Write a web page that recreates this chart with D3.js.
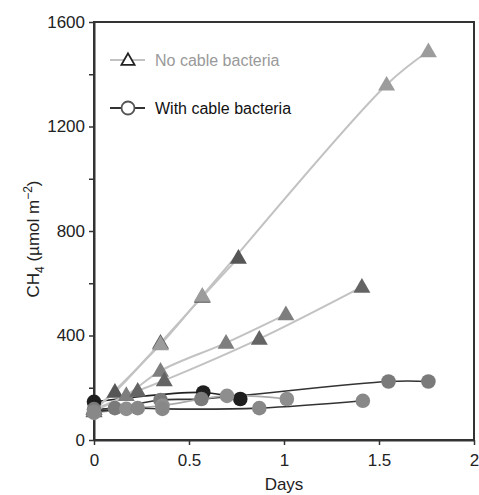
<!DOCTYPE html>
<html>
<head>
<meta charset="utf-8">
<script src="https://cdn.jsdelivr.net/npm/d3@7"></script>
<style>
  body { margin: 0; background: #fff; }
  text { font-family: "Liberation Sans", Arial, sans-serif; }
</style>
</head>
<body>
<script>
// replicate series (days, CH4 umol m-2)
const noCableDays = [
    [0, 0.11, 0.35, 0.57, 0.76],
    [0, 0.35, 0.57, 1.54, 1.76],
    [0, 0.17, 0.35, 0.695, 1.01],
    [0, 0.23, 0.37, 0.87, 1.41]
];
const noCableValues = [
    [120, 184, 372, 548, 697],
    [112, 366, 552, 1360, 1488],
    [118, 172, 265, 372, 481],
    [110, 188, 228, 387, 586]
];
const withCableDays = [
    [0, 0.575, 0.77],
    [0, 0.11, 0.35, 0.565, 1.55, 1.76],
    [0, 0.17, 0.36, 0.70, 1.015],
    [0, 0.23, 0.36, 0.87, 1.415]
];
const withCableValues = [
    [146, 182, 157],
    [118, 122, 153, 157, 224, 224],
    [104, 119, 132, 169, 157],
    [108, 122, 119, 122, 150]
];
const triFill = ["#565656", "#9c9c9c", "#7e7e7e", "#646464"];
const circFill = ["#1e1e1e", "#7a7a7a", "#8e8e8e", "#888888"];
const circLine = ["#222", "#333", "#aaa", "#333"];

const xTicks = [0, 0.5, 1, 1.5, 2];
const yTicks = [0, 200, 400, 600, 800, 1000, 1200, 1400, 1600];
const yLabelled = [0, 400, 800, 1200, 1600];

let margin = {top: 22, right: 5, bottom: 55, left: 94};
let width = 479 - margin.left - margin.right;
let height = 495 - margin.top - margin.bottom;

let xScale = d3.scaleLinear().domain([0, 2]).range([0, width]);
let yScale = d3.scaleLinear().domain([0, 1600]).range([height, 0]);

let svg = d3.select("body").append("svg")
    .attr("width", 479)
    .attr("height", 495)
  .append("g")
    .attr("transform", `translate(${margin.left},${margin.top})`);

// frame
svg.append("rect")
    .attr("width", width).attr("height", height)
    .attr("fill", "none").attr("stroke", "#333").attr("stroke-width", 2);

let xAxis = svg.append("g")
    .attr("transform", `translate(0,${height})`)
    .call(d3.axisBottom(xScale).tickValues(xTicks).tickSize(5).tickSizeOuter(0)
        .tickFormat(d => d));
let yAxis = svg.append("g")
    .call(d3.axisLeft(yScale).tickValues(yTicks).tickSize(5).tickSizeOuter(0)
        .tickFormat(d => yLabelled.includes(d) ? d : ""));

[xAxis, yAxis].forEach(a => {
    a.select(".domain").attr("stroke", "#333").attr("stroke-width", 2);
    a.selectAll(".tick line").attr("stroke", "#333").attr("stroke-width", 1.5);
    a.selectAll(".tick text").attr("font-size", 17).attr("fill", "#222")
        .style("font-family", "Liberation Sans, Arial, sans-serif");
});
xAxis.selectAll(".tick text").attr("dy", "1.05em");
yAxis.selectAll(".tick text").attr("x", -9);

svg.append("text")
    .attr("x", width / 2).attr("y", height + 50)
    .attr("text-anchor", "middle").attr("font-size", 17).attr("fill", "#222")
    .text("Days");

let yl = svg.append("text")
    .attr("transform", `translate(-55,${height / 2 + 8}) rotate(-90)`)
    .attr("text-anchor", "middle").attr("font-size", 17).attr("fill", "#222");
yl.append("tspan").text("CH");
yl.append("tspan").attr("font-size", 12).attr("dy", 5).text("4");
yl.append("tspan").attr("dy", -5).text(" (\u00b5mol m");
yl.append("tspan").attr("font-size", 12).attr("dy", -7).text("\u22122");
yl.append("tspan").attr("dy", 7).text(")");

let line = d3.line()
    .x(d => xScale(d.x))
    .y(d => yScale(d.y))
    .curve(d3.curveCatmullRom.alpha(0.5));

let tri = d3.symbol().type(d3.symbolTriangle).size(125);

function pts(days, vals) {
    return days.map((x, i) => ({x: x, y: vals[i]}));
}

// with cable bacteria lines first (underneath)
withCableDays.forEach((days, k) => {
    svg.append("path")
        .datum(pts(days, withCableValues[k]))
        .attr("fill", "none").attr("stroke", circLine[k]).attr("stroke-width", 1.6)
        .attr("d", line);
});
noCableDays.forEach((days, k) => {
    svg.append("path")
        .datum(pts(days, noCableValues[k]))
        .attr("fill", "none").attr("stroke", "#c2c2c2").attr("stroke-width", 2)
        .attr("d", line);
});

noCableDays.forEach((days, k) => {
    svg.selectAll(null)
        .data(pts(days, noCableValues[k]))
        .enter().append("path")
        .attr("d", tri)
        .attr("transform", d => `translate(${xScale(d.x)},${yScale(d.y) + 1})`)
        .attr("fill", triFill[k]);
});
withCableDays.forEach((days, k) => {
    svg.selectAll(null)
        .data(pts(days, withCableValues[k]))
        .enter().append("circle")
        .attr("cx", d => xScale(d.x))
        .attr("cy", d => yScale(d.y))
        .attr("r", 7.3)
        .attr("fill", circFill[k]);
});

// legend
let legend = svg.append("g").attr("transform", "translate(16,38)");
legend.append("line").attr("x1", 0).attr("x2", 35).attr("y1", 0).attr("y2", 0)
    .attr("stroke", "#c2c2c2").attr("stroke-width", 2);
legend.append("path").attr("d", d3.symbol().type(d3.symbolTriangle).size(75))
    .attr("transform", "translate(18,1)")
    .attr("fill", "#fff").attr("stroke", "#222").attr("stroke-width", 1.8);
legend.append("text").attr("x", 45).attr("y", 6).attr("font-size", 16)
    .attr("fill", "#999").text("No cable bacteria");

legend.append("line").attr("x1", 0).attr("x2", 35).attr("y1", 48).attr("y2", 48)
    .attr("stroke", "#333").attr("stroke-width", 2);
legend.append("circle").attr("cx", 18).attr("cy", 48).attr("r", 6.5)
    .attr("fill", "#fff").attr("stroke", "#555").attr("stroke-width", 1.8);
legend.append("text").attr("x", 45).attr("y", 54).attr("font-size", 16)
    .attr("fill", "#111").text("With cable bacteria");
</script>
</body>
</html>
